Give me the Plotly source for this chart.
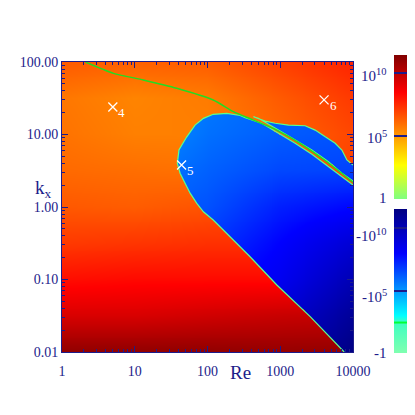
import numpy as np
import plotly.graph_objects as go

NAVY = "#1c1c8a"
FONT = "Liberation Serif"

field_log_re = [0, 1, 2, 3, 4]
field_log_k = [-2, -1.5, -1, -0.5, 0, 0.5, 1, 1.5, 2]
pos_mag = [
    [11.1, 11.1, 11.1, 11.0, 11.0],
    [9.4, 9.4, 9.6, 9.8, 9.9],
    [8.2, 8.3, 8.3, 8.3, 8.4],
    [7.2, 7.3, 7.4, 7.4, 7.5],
    [6.5, 6.4, 6.6, 6.8, 7.1],
    [6.1, 6.0, 5.9, 6.5, 7.0],
    [5.9, 5.6, 5.6, 6.2, 6.9],
    [5.8, 5.5, 5.7, 6.45, 7.2],
    [6.45, 6.3, 6.4, 7.05, 7.7],
]
neg_mag = [
    [8.0, 8.4, 9.0, 10.0, 11.5],
    [7.5, 7.8, 8.3, 9.2, 10.9],
    [7.0, 7.2, 7.6, 8.4, 10.1],
    [6.5, 6.6, 6.9, 8.0, 9.2],
    [6.0, 6.0, 6.4, 7.4, 7.9],
    [5.5, 5.5, 6.1, 6.6, 6.7],
    [5.0, 5.0, 5.8, 6.2, 6.4],
    [5.0, 5.0, 5.6, 6.0, 6.3],
    [5.0, 5.0, 5.5, 6.0, 6.3],
]

# ---- negative-region boundaries (Re, kx) ----
blob_re = [10000, 7040, 4600, 2720, 1600, 945, 558, 329, 281, 184, 120, 88, 67.5, 51.9,
           40.5, 38.5, 42, 49.2, 57.7, 71.3, 87.9, 120, 165, 253, 385, 898, 2580,
           7570, 10000]
blob_k = [2.01, 2.62, 3.6, 5.34, 7.6, 10.4, 14.3, 17.1, 18.3, 19.5, 19.0, 16.7, 13.5, 9.3,
          6.1, 4.0, 2.92, 2.12, 1.55, 1.12, 0.86, 0.662, 0.482, 0.316, 0.206, 0.0839,
          0.0307, 0.01, 0.01]
tongue_re = [10000, 8240, 7030, 5690, 4150, 3020, 2200, 1297, 851, 620, 428,
             501, 945, 1600, 2720, 4600, 7030, 10000]
tongue_k = [3.8, 4.45, 6.1, 7.57, 9.3, 11.5, 13.2, 13.5, 14.3, 15.3, 17.6,
            16.7, 11.5, 8.4, 6.1, 4.22, 2.92, 2.29]

# ---- green curve ----
green_re = [2.1, 5.1, 13.1, 37.8, 120, 227, 429, 897, 1880, 4380, 10000]
green_k = [100, 69.8, 56.5, 43.4, 29.9, 20.7, 15.8, 11.5, 7.55, 4.2, 2.2]

# ---- marked points ----
marker_re = [5.0, 44, 4000]
marker_k = [24, 3.8, 30]
marker_lab = ["4", "5", "6"]

# ---- axis ticks ----
x_tickvals = [1, 10, 100, 1000, 10000]
x_ticktext = ["1", "10", "100", "1000", "10000"]
y_tickvals = [0.01, 0.1, 1, 10, 100]
y_ticktext = ["0.01", "0.10", "1.00", "10.00", "100.00"]
cb_tickvals = [0, 5, 10]
pos_cb_text = ["1", "10<sup>5</sup>", "10<sup>10</sup>"]
neg_cb_text = ["-1", "-10<sup>5</sup>", "-10<sup>10</sup>"]

pos_scale = [[0.0, "#80ff80"], [2.7 / 11.5, "#ffff00"], [8.5 / 11.5, "#ff0000"], [1.0, "#800000"]]
neg_scale = [[0.0, "#80ffb0"], [2.3 / 11.6, "#40ffc0"], [2.45 / 11.6, "#00ff30"],
             [2.6 / 11.6, "#30ffd0"], [3.0 / 11.6, "#00ffff"], [8.0 / 11.6, "#0000ff"],
             [1.0, "#000080"]]

# ---- build the cell table ----
N = 300
ex = np.linspace(0, 4, N + 1)
ey = np.linspace(-2, 2, N + 1)
cx = (ex[:-1] + ex[1:]) / 2
cy = (ey[:-1] + ey[1:]) / 2


def bilinear(xn, yn, Z, xq, yq):
    Z = np.asarray(Z, float)
    tmp = np.array([np.interp(xq, xn, row) for row in Z])
    return np.array([np.interp(yq, yn, tmp[:, j]) for j in range(len(xq))]).T


def inside(px, py, vx, vy):
    vx = np.asarray(vx); vy = np.asarray(vy)
    res = np.zeros(px.shape, bool)
    j = len(vx) - 1
    for i in range(len(vx)):
        yi, yj, xi, xj = vy[i], vy[j], vx[i], vx[j]
        cond = ((yi > py) != (yj > py))
        xint = (xj - xi) * (py - yi) / ((yj - yi) if yj != yi else 1e-30) + xi
        res ^= cond & (px < xint)
        j = i
    return res


PX, PY = np.meshgrid(cx, cy)
mask = inside(PX, PY, np.log10(blob_re), np.log10(blob_k)) | \
    inside(PX, PY, np.log10(tongue_re), np.log10(tongue_k))
posz = bilinear(field_log_re, field_log_k, pos_mag, cx, cy)
negz = bilinear(field_log_re, field_log_k, neg_mag, cx, cy)
zpos = np.where(mask, np.nan, posz)
zneg = np.where(mask, negz, np.nan)

cb_common = dict(thickness=13, thicknessmode="pixels", lenmode="fraction", len=0.495,
                 xanchor="left", yanchor="bottom", x=1.141, xpad=0, ypad=0,
                 outlinewidth=0, ticks="inside", ticklen=13, tickwidth=1.5,
                 tickcolor=NAVY, showticklabels=False, tickmode="array",
                 tickvals=cb_tickvals)

fig = go.Figure()
fig.add_trace(go.Heatmap(x=10 ** ex, y=10 ** ey, z=zpos, zmin=0, zmax=11.5,
                         colorscale=pos_scale, zsmooth=False, hoverinfo="skip",
                         colorbar=dict(y=0.529, **cb_common)))
fig.add_trace(go.Heatmap(x=10 ** ex, y=10 ** ey, z=zneg, zmin=0, zmax=11.6,
                         colorscale=neg_scale, zsmooth=False, hoverinfo="skip",
                         colorbar=dict(y=-0.002, **cb_common)))

rim = dict(color="#5cff8c", width=1.2)
fig.add_trace(go.Scatter(x=blob_re[:-1], y=blob_k[:-1], mode="lines", line=rim,
                         hoverinfo="skip", showlegend=False))
fig.add_trace(go.Scatter(x=tongue_re, y=tongue_k, mode="lines", line=rim,
                         hoverinfo="skip", showlegend=False))
fig.add_trace(go.Scatter(x=green_re, y=green_k, mode="lines",
                         line=dict(color="#22dd22", width=1.4, shape="spline",
                                   smoothing=0.6),
                         hoverinfo="skip", showlegend=False))
fig.add_trace(go.Scatter(x=marker_re, y=marker_k, mode="markers",
                         marker=dict(symbol="x-thin", size=9,
                                     line=dict(width=1.3, color="white")),
                         hoverinfo="skip", showlegend=False))

annotations = []
for r, k, t in zip(marker_re, marker_k, marker_lab):
    annotations.append(dict(x=np.log10(r), y=np.log10(k), xref="x", yref="y", text=t,
                            showarrow=False, xshift=9, yshift=-6,
                            font=dict(family=FONT, size=13, color="white")))
annotations.append(dict(x=0.615, y=-0.114, xref="paper", yref="paper", text="Re",
                        showarrow=False, font=dict(family=FONT, size=19, color=NAVY)))
annotations.append(dict(x=-0.10, y=0.562, xref="paper", yref="paper", text="k<sub>x</sub>",
                        showarrow=False, font=dict(family=FONT, size=19, color=NAVY)))
pos_lab_y = [0.531, 0.743, 0.955]
neg_lab_y = [-0.003, 0.193, 0.403]
for t, yy in zip(pos_cb_text, pos_lab_y):
    annotations.append(dict(x=1.1237, y=yy, xref="paper", yref="paper", text=t,
                            xanchor="right", yanchor="middle", showarrow=False,
                            font=dict(family=FONT, size=15, color=NAVY)))
for t, yy in zip(neg_cb_text, neg_lab_y):
    annotations.append(dict(x=1.1237, y=yy, xref="paper", yref="paper", text=t,
                            xanchor="right", yanchor="middle", showarrow=False,
                            font=dict(family=FONT, size=15, color=NAVY)))

x_minor = [m * 10 ** d for d in range(4) for m in range(2, 10)]
y_minor = [m * 10.0 ** d for d in range(-2, 2) for m in range(2, 10)]
axis_common = dict(type="log", showgrid=False, zeroline=False, showline=True,
                   linecolor=NAVY, linewidth=1, mirror="allticks", ticks="inside",
                   ticklen=6, tickwidth=1, tickcolor=NAVY, tickmode="array",
                   tickfont=dict(family=FONT, size=14, color=NAVY))
fig.update_layout(
    width=415, height=415,
    margin=dict(l=54, r=70, t=54, b=71, autoexpand=False),
    paper_bgcolor="white", plot_bgcolor="white", showlegend=False,
    xaxis=dict(range=[0, 4], tickvals=x_tickvals, ticktext=x_ticktext,
               ticklabelstandoff=6,
               minor=dict(tickmode="array", tickvals=x_minor, ticks="inside",
                          ticklen=3, tickcolor=NAVY), **axis_common),
    yaxis=dict(range=[-2, 2], tickvals=y_tickvals, ticktext=y_ticktext,
               minor=dict(tickmode="array", tickvals=y_minor, ticks="inside",
                          ticklen=3, tickcolor=NAVY), **axis_common),
    annotations=annotations,
)
fig.write_html("out.html")
